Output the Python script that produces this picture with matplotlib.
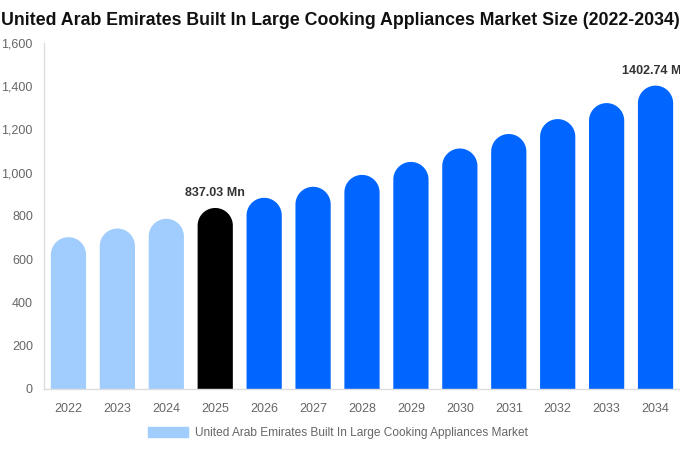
import matplotlib.pyplot as plt
import numpy as np
from matplotlib.patches import Polygon, Patch

plt.rcParams['font.family'] = ['Liberation Sans', 'DejaVu Sans']

years = ['2022', '2023', '2024', '2025', '2026', '2027', '2028',
         '2029', '2030', '2031', '2032', '2033', '2034']
values = [702, 742, 787, 837.03, 884, 935, 990, 1050, 1112, 1179, 1248, 1322, 1402.74]
colors = ['#a0cdfd'] * 3 + ['#000000'] + ['#0066ff'] * 9
labels = {3: '837.03 Mn', 12: '1402.74 Mn'}

fig = plt.figure(figsize=(6.8, 4.5), dpi=100)
ax = fig.add_axes([0.0647, 0.1356, 0.9353, 0.7689])

width = 0.72
ymax = 1600
# height of the rounded cap in data units (radius in pixels = half bar width)
ax_h_px = 0.7689 * 450
ax_w_px = 0.9353 * 680
r_px = width / 13 * ax_w_px / 2
ry = r_px / ax_h_px * ymax

# bar outline: straight sides, half-ellipse cap on top
t = np.linspace(np.pi, 0, 40)
for i, v in enumerate(values):
    xs = np.concatenate([[i - width / 2], i + width / 2 * np.cos(t), [i + width / 2]])
    ys = np.concatenate([[0], v - ry + ry * np.sin(t), [0]])
    ax.add_patch(Polygon(np.column_stack([xs, ys]), closed=True,
                         facecolor=colors[i], edgecolor='none'))

for i, txt in labels.items():
    ax.text(i, values[i] + 40, txt, ha='center', va='bottom',
            fontsize=9, fontweight='bold', color='#333333')

ax.set_xlim(-0.5, len(years) - 0.5)
ax.set_ylim(0, ymax)
ax.set_xticks(range(len(years)))
ax.set_xticklabels(years)
ax.set_yticks(range(0, 1601, 200))
ax.set_yticklabels([f'{t:,}' for t in range(0, 1601, 200)])
ax.tick_params(axis='x', length=0, labelsize=9, colors='#666666', pad=10)
ax.tick_params(axis='y', length=0, labelsize=9, colors='#666666', pad=8)

for s in ['top', 'right']:
    ax.spines[s].set_visible(False)
for s in ['left', 'bottom']:
    ax.spines[s].set_color('#dddddd')
    ax.spines[s].set_linewidth(1)

fig.text(0.5, 0.955, 'United Arab Emirates Built In Large Cooking Appliances Market Size (2022-2034)',
         ha='center', va='center', fontsize=12.8, fontweight='bold', color='#111111')

handle = Patch(color='#a0cdfd')
fig.legend([handle], ['United Arab Emirates Built In Large Cooking Appliances Market'],
           loc='center', bbox_to_anchor=(0.497, 0.038), frameon=False,
           fontsize=8.6, labelcolor='#666666', handlelength=3.3, handleheight=0.95,
           handletextpad=0.6)

fig.savefig('out.png', dpi=100)
